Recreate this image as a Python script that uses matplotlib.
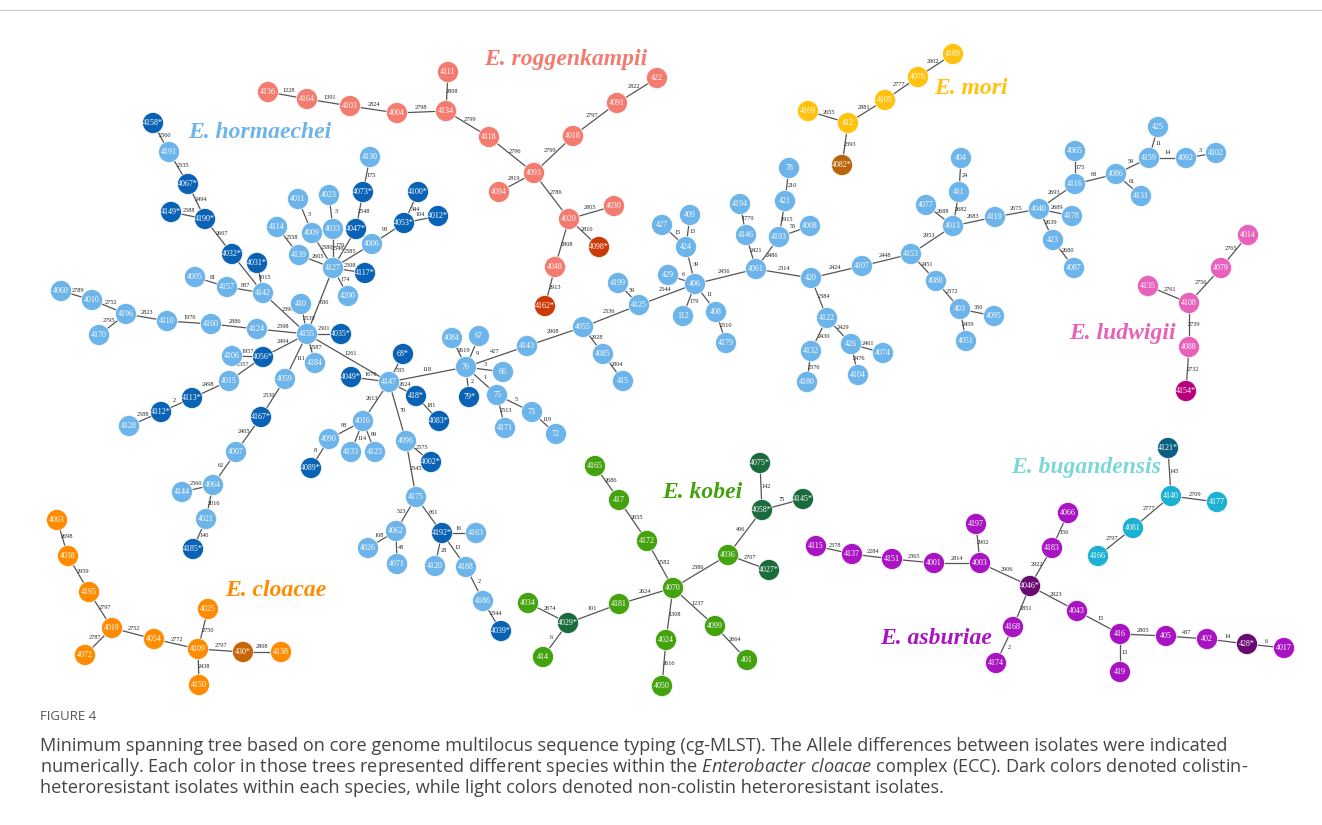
import numpy as np
import matplotlib
matplotlib.use("Agg")
import matplotlib.pyplot as plt
from matplotlib.patches import Circle

plt.rcParams['mathtext.fontset'] = 'custom'
plt.rcParams['mathtext.rm'] = 'Open Sans'
plt.rcParams['mathtext.it'] = 'Open Sans:italic'

# ---- allele-difference trees: (isolate, isolate, allele differences) ----
# a trailing "*" marks a colistin-heteroresistant isolate
hormaechei_edges = [
    ("4158*", "4191", 2560), ("4191", "4067*", 2535), ("4067*", "4190*", 2494),
    ("4149*", "4190*", 2588), ("4190*", "4032*", 2607), ("4032*", "4142", 57),
    ("4031*", "4142", 1015), ("4005", "4157", 81), ("4157", "4142", 887),
    ("4142", "4155", 2399), ("4011", "4009", 3), ("4023", "4033", 3),
    ("4114", "4139", 2558), ("4009", "4127", 2580), ("4033", "4127", 2546),
    ("4139", "4127", 2605), ("4130", "4073*", 175), ("4073*", "4047*", 2548),
    ("4047*", "4127", 179), ("4006", "4127", 2585), ("4006", "4053*", 93),
    ("4100*", "4053*", 344), ("4053*", "4012*", 104), ("4117*", "4127", 2508),
    ("4200", "4127", 174), ("4127", "4155", 630), ("410", "4155", 2539),
    ("4060", "4010", 2789), ("4010", "4196", 2752), ("4170", "4196", 2795),
    ("4196", "4110", 2823), ("4110", "4160", 1976), ("4160", "4124", 2886),
    ("4124", "4155", 2598), ("4155", "4035*", 2501), ("4155", "4184", 2587),
    ("4155", "4056*", 2494), ("4106", "4056*", 1957), ("4056*", "4015", 2557),
    ("4015", "4113*", 2498), ("4113*", "4112*", 2), ("4112*", "4128", 2588),
    ("4155", "4059", 111), ("4059", "4167*", 2530), ("4167*", "4007", 2405),
    ("4007", "4064", 62), ("4144", "4064", 2560), ("4064", "4021", 2016),
    ("4021", "4185*", 140), ("4155", "4147", 1261), ("4049*", "4147", 1670),
    ("68*", "4147", 535), ("4147", "418*", 2624), ("418*", "4083*", 181),
    ("4147", "4016", 2613), ("4016", "4090", 98), ("4090", "4089*", 8),
    ("4016", "4133", 114), ("4016", "4123", 89), ("4147", "4096", 70),
    ("4096", "4002*", 2575), ("4096", "4175", 2545), ("4175", "4062", 523),
    ("4062", "4026", 108), ("4062", "4071", 48), ("4175", "4192*", 661),
    ("4192*", "4163", 16), ("4192*", "4120", 28), ("4192*", "4188", 13),
    ("4188", "4186", 2), ("4186", "4039*", 2344), ("4147", "76", 118),
    ("4084", "76", 2619), ("67", "76", 9), ("76", "66", 3), ("76", "79*", 2),
    ("76", "75", 1), ("75", "4171", 2513), ("75", "73", 5), ("73", "72", 119),
    ("76", "4143", 427), ("4143", "4055", 2908), ("4055", "4085", 2928),
    ("4085", "415", 2804), ("4055", "4125", 2536), ("4199", "4125", 59),
    ("4125", "406", 2544), ("429", "406", 6), ("427", "424", 15),
    ("409", "424", 13), ("424", "406", 39), ("406", "112", 179),
    ("406", "408", 11), ("408", "4179", 2510), ("406", "4061", 2456),
    ("4194", "4146", 1779), ("4146", "4061", 2421), ("78", "421", 210),
    ("421", "4193", 1915), ("4193", "4008", 55), ("4193", "4061", 2486),
    ("4061", "420", 2314), ("420", "4122", 2384), ("4122", "4132", 2430),
    ("4132", "4180", 2376), ("4122", "426", 2429), ("426", "4074", 2461),
    ("426", "4104", 2476), ("420", "4107", 2424), ("4107", "4153", 2448),
    ("4153", "4080", 2451), ("4080", "403", 2372), ("403", "4095", 350),
    ("403", "4051", 2459), ("4153", "4013", 2953), ("4077", "4013", 2688),
    ("404", "411", 24), ("411", "4013", 2682), ("4013", "4119", 2683),
    ("4119", "4040", 2675), ("4040", "4178", 2689), ("4040", "423", 2639),
    ("423", "4087", 2680), ("4040", "4116", 2693), ("4065", "4116", 175),
    ("4116", "4086", 68), ("4086", "4131", 61), ("4086", "4159", 59),
    ("425", "4159", 11), ("4159", "4092", 14), ("4092", "4102", 3),
]
roggenkampii_edges = [
    ("4136", "4164", 1228), ("4164", "4103", 1391), ("4103", "4004", 2824),
    ("4004", "4134", 2798), ("4111", "4134", 2808), ("4134", "4118", 2799),
    ("4118", "4093", 2796), ("4093", "4018", 2799), ("4018", "4091", 2797),
    ("4091", "422", 2822), ("4094", "4093", 2819), ("4093", "4020", 2786),
    ("4020", "4030", 2805), ("4020", "4098*", 2810), ("4020", "4048", 2808),
    ("4048", "4162*", 2913),
]
mori_edges = [
    ("4169", "412", 2655), ("412", "4105", 2881), ("4105", "4076", 2777),
    ("4076", "4189", 2902), ("412", "4082*", 2393),
]
ludwigii_edges = [
    ("4014", "4079", 2765), ("4135", "4108", 2761), ("4108", "4079", 2756),
    ("4108", "4088", 2739), ("4088", "4154*", 2732),
]
bugandensis_edges = [
    ("4121*", "4140", 145), ("4140", "4177", 2709), ("4140", "4081", 2777),
    ("4081", "4166", 2797),
]
kobei_edges = [
    ("4165", "417", 2686), ("417", "4172", 2655), ("4172", "4070", 2582),
    ("4181", "4070", 2624), ("4029*", "4181", 101), ("4034", "4029*", 2674),
    ("4029*", "414", 6), ("4070", "4024", 1308), ("4024", "4050", 2616),
    ("4070", "4099", 1237), ("4099", "401", 2664), ("4070", "4036", 2386),
    ("4036", "4027*", 2707), ("4036", "4058*", 406), ("4075*", "4058*", 142),
    ("4058*", "4145*", 75),
]
cloacae_edges = [
    ("4063", "4038", 2698), ("4038", "4195", 2959), ("4195", "4019", 2797),
    ("4019", "4072", 2787), ("4019", "4054", 2752), ("4054", "4109", 2772),
    ("4025", "4109", 2750), ("4109", "4150", 2438), ("4109", "430*", 2797),
    ("430*", "4138", 2808),
]
asburiae_edges = [
    ("4115", "4137", 2378), ("4137", "4151", 2284), ("4151", "4001", 2365),
    ("4001", "4003", 2814), ("4197", "4003", 2902), ("4003", "4046*", 2906),
    ("4066", "4183", 156), ("4183", "4046*", 2922), ("4046*", "4168", 2851),
    ("4168", "4174", 2), ("4046*", "4043", 2923), ("4043", "416", 15),
    ("416", "419", 13), ("416", "405", 2805), ("405", "402", 437),
    ("402", "428*", 14), ("428*", "4017", 6),
]

# ---- tree layout (pixel positions on the canvas) ----
hormaechei_pos = {
    "4158*": (153, 123), "4191": (169, 152), "4067*": (188, 184), "4149*": (171, 212),
    "4190*": (205, 219), "4032*": (232, 254), "4031*": (257, 263), "4005": (195, 277),
    "4157": (227, 287), "4142": (263, 293), "4011": (298, 199), "4023": (329, 195),
    "4114": (277, 227), "4009": (312, 233), "4033": (333, 229), "4139": (299, 255),
    "4130": (370, 157), "4073*": (363, 192), "4047*": (356, 229), "4006": (372, 244),
    "4053*": (404, 223), "4100*": (418, 192), "4012*": (438, 216), "4127": (333, 268),
    "4117*": (365, 273), "4200": (348, 296), "410": (301, 304), "4060": (61, 291),
    "4010": (92, 300), "4196": (126, 314), "4170": (99, 335), "4110": (167, 321),
    "4160": (211, 324), "4124": (257, 329), "4155": (307, 334), "4035*": (341, 334),
    "4184": (315, 363), "4106": (232, 356), "4056*": (263, 357), "4015": (229, 381),
    "4059": (285, 379), "4113*": (192, 398), "4112*": (161, 412), "4128": (129, 426),
    "4167*": (261, 417), "4007": (236, 452), "4064": (213, 485), "4144": (182, 492),
    "4021": (206, 519), "4185*": (193, 549), "4147": (389, 382), "4049*": (351, 377),
    "68*": (403, 354), "418*": (416, 396), "4083*": (439, 421), "4016": (363, 421),
    "4090": (329, 439), "4089*": (311, 468), "4133": (351, 452), "4123": (375, 452),
    "4096": (406, 441), "4002*": (431, 462), "4175": (416, 497), "4062": (396, 531),
    "4026": (368, 548), "4071": (397, 564), "4192*": (442, 533), "4163": (476, 533),
    "4120": (435, 566), "4188": (466, 567), "4186": (483, 601), "4039*": (501, 631),
    "76": (466, 367), "4084": (452, 338), "67": (479, 336), "66": (503, 372),
    "79*": (469, 397), "75": (497, 395), "4171": (505, 428), "73": (532, 412),
    "72": (556, 434), "4143": (527, 346), "4055": (583, 327), "4085": (603, 354),
    "415": (623, 381), "4199": (618, 283), "4125": (639, 305), "406": (695, 284),
    "429": (668, 275), "424": (686, 247), "427": (662, 225), "409": (690, 215),
    "112": (683, 316), "408": (716, 312), "4179": (726, 343), "4061": (756, 269),
    "4146": (746, 235), "4194": (740, 204), "4193": (779, 237), "421": (785, 201),
    "78": (789, 168), "4008": (810, 226), "420": (811, 278), "4122": (827, 318),
    "4132": (811, 351), "4180": (807, 382), "426": (851, 344), "4074": (883, 353),
    "4104": (858, 375), "4107": (862, 266), "4153": (911, 254), "4080": (936, 281),
    "403": (960, 309), "4095": (994, 316), "4051": (966, 341), "4013": (953, 226),
    "4077": (926, 205), "411": (959, 192), "404": (961, 158), "4119": (995, 217),
    "4040": (1039, 209), "4178": (1072, 216), "423": (1053, 240), "4087": (1074, 268),
    "4116": (1075, 184), "4065": (1075, 151), "4086": (1116, 174), "4131": (1141, 196),
    "4159": (1149, 158), "425": (1158, 127), "4092": (1186, 158), "4102": (1216, 153),
}
roggenkampii_pos = {
    "4136": (268, 92), "4164": (307, 99), "4103": (350, 106), "4004": (397, 113),
    "4134": (446, 111), "4111": (448, 72), "4118": (489, 137), "4093": (534, 173),
    "4094": (499, 192), "4018": (573, 136), "4091": (617, 103), "422": (657, 78),
    "4020": (569, 219), "4030": (614, 206), "4098*": (599, 247), "4048": (555, 267),
    "4162*": (545, 306),
}
mori_pos = {
    "4169": (808, 111), "412": (848, 123), "4105": (885, 100), "4076": (918, 77),
    "4189": (953, 54), "4082*": (842, 165),
}
ludwigii_pos = {
    "4014": (1248, 235), "4079": (1221, 268), "4135": (1148, 286), "4108": (1189, 303),
    "4088": (1189, 347), "4154*": (1186, 391),
}
bugandensis_pos = {
    "4121*": (1168, 448), "4140": (1171, 496), "4177": (1217, 502), "4081": (1133, 528),
    "4166": (1098, 556),
}
kobei_pos = {
    "4165": (595, 466), "417": (619, 500), "4172": (647, 541), "4070": (673, 588),
    "4181": (619, 604), "4029*": (568, 623), "4034": (528, 603), "414": (543, 657),
    "4024": (666, 640), "4050": (662, 686), "4099": (715, 626), "401": (747, 660),
    "4036": (728, 555), "4027*": (769, 570), "4058*": (762, 510), "4075*": (760, 463),
    "4145*": (803, 499),
}
cloacae_pos = {
    "4063": (57, 520), "4038": (68, 556), "4195": (89, 592), "4019": (112, 628),
    "4072": (85, 655), "4054": (154, 639), "4109": (198, 649), "4025": (208, 609),
    "4150": (199, 685), "430*": (243, 652), "4138": (281, 652),
}
asburiae_pos = {
    "4115": (816, 546), "4137": (852, 554), "4151": (892, 559), "4001": (934, 563),
    "4003": (980, 563), "4197": (976, 524), "4046*": (1030, 586), "4183": (1052, 548),
    "4066": (1068, 513), "4168": (1013, 627), "4174": (996, 663), "4043": (1077, 611),
    "416": (1120, 634), "419": (1120, 672), "405": (1166, 636), "402": (1207, 639),
    "428*": (1247, 644), "4017": (1284, 648),
}

# name, edges, layout, light colour, dark colour, title colour, title position
species = [
    ("E. hormaechei", hormaechei_edges, hormaechei_pos, "#6cb4ea", "#0a62b4", "#6cb4ea", (260, 132)),
    ("E. roggenkampii", roggenkampii_edges, roggenkampii_pos, "#f47b6f", "#cc3a08", "#f47b6f", (566, 60)),
    ("E. mori", mori_edges, mori_pos, "#ffc20e", "#b8650a", "#ffc20e", (971, 89)),
    ("E. ludwigii", ludwigii_edges, ludwigii_pos, "#e862bb", "#b8007c", "#e862bb", (1122, 333)),
    ("E. bugandensis", bugandensis_edges, bugandensis_pos, "#1cb0d2", "#0c5f84", "#7dd6d8", (1086, 468)),
    ("E. kobei", kobei_edges, kobei_pos, "#44a20e", "#1b6b3c", "#44a20e", (702, 492)),
    ("E. cloacae", cloacae_edges, cloacae_pos, "#ff8c00", "#c8650a", "#ff8c00", (276, 591)),
    ("E. asburiae", asburiae_edges, asburiae_pos, "#a814c2", "#690a72", "#a814c2", (936, 638)),
]

# edges whose weight sits on the opposite side of the line
flip_labels = {("4193", "4061")}

W, H = 1322, 825
R = 10.5          # node radius in px
SERIF = "Liberation Serif"

fig = plt.figure(figsize=(W / 100, H / 100), dpi=100, facecolor="white")
ax = fig.add_axes([0, 0, 1, 1])
ax.set_xlim(0, W)
ax.set_ylim(H, 0)
ax.axis("off")


def label_xy(p, q, off=5, flip=False):
    p, q = np.array(p, float), np.array(q, float)
    d = q - p
    n = np.array([d[1], -d[0]]) / np.hypot(*d)
    if abs(n[1]) >= 0.5:
        if n[1] > 0:
            n = -n
    elif n[0] < 0:
        n = -n
    if flip:
        n = -n
    return (p + q) / 2 + n * off


for name, edges, pos, light, dark, tcol, tpos in species:
    for a, b, w in edges:
        pa, pb = pos[a], pos[b]
        ax.plot([pa[0], pb[0]], [pa[1], pb[1]], color="#555555", lw=0.9, zorder=1)
        lx, ly = label_xy(pa, pb, flip=(a, b) in flip_labels)
        ax.text(lx, ly, str(w), fontsize=4.5, family=SERIF, color="#222222",
                ha="center", va="center", zorder=2)
    for node, (x, y) in pos.items():
        col = dark if node.endswith("*") else light
        ax.add_patch(Circle((x, y), R, facecolor=col, edgecolor="white", lw=0.5, zorder=3))
        ax.text(x, y, node, fontsize=5.8, family=SERIF, color="white",
                ha="center", va="center", zorder=4)
    ax.text(tpos[0], tpos[1], name, fontsize=17, family=SERIF, weight="bold",
            style="italic", color=tcol, ha="center", va="center", zorder=5)

# frame rule and caption
ax.plot([0, W], [10, 10], color="#c8c8c8", lw=0.8)
ax.text(40, 717, "FIGURE 4", fontsize=9.5, family="Open Sans", color="#555555",
        ha="left", va="center")
caption = [
    "Minimum spanning tree based on core genome multilocus sequence typing (cg-MLST). The Allele differences between isolates were indicated",
    r"numerically. Each color in those trees represented different species within the $\mathit{Enterobacter\ cloacae}$ complex (ECC). Dark colors denoted colistin-",
    "heteroresistant isolates within each species, while light colors denoted non-colistin heteroresistant isolates.",
]
for i, line in enumerate(caption):
    ax.text(40, 746 + 21 * i, line, fontsize=13.1, family="Open Sans", color="#444444",
            ha="left", va="center")

fig.savefig("out.png", dpi=100, facecolor="white")
